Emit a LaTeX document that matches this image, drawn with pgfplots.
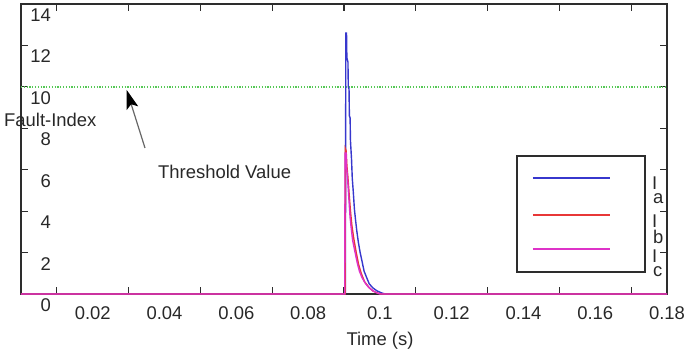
\documentclass[border=0pt]{standalone}
\usepackage{pgfplots}
\pgfplotsset{compat=1.18}
\usepackage{fontspec}
\setmainfont{Liberation Sans}
\usetikzlibrary{arrows.meta}
\definecolor{cblue}{RGB}{55,55,205}
\definecolor{cred}{RGB}{232,55,55}
\definecolor{cmag}{RGB}{222,50,200}
\definecolor{cgreen}{RGB}{85,200,85}
\definecolor{axgrey}{RGB}{45,45,45}
\definecolor{txgrey}{RGB}{40,40,40}
\begin{document}
\begin{tikzpicture}
\fontsize{18.5}{21}\selectfont
\path[use as bounding box] (-21bp,-62bp) rectangle (666bp,294bp);
\begin{axis}[
  at={(0,0)}, anchor=south west,
  scale only axis, width=646bp, height=290bp,
  xmin=0, xmax=0.18, ymin=0, ymax=14,
  clip=false,
  axis line style={line width=1.3bp, color=axgrey},
  xtick={0.02,0.04,0.06,0.08,0.1,0.12,0.14,0.16,0.18},
  xticklabels={0.02,0.04,0.06,0.08,0.1,0.12,0.14,0.16,0.18},
  ytick={0,2,4,6,8,10,12,14},
  yticklabels={0,2,4,6,8,10,12,14},
  minor xtick={0.01,0.03,0.05,0.07,0.09,0.11,0.13,0.15,0.17},
  minor ytick={2,4,6,8,10,12},
  major tick length=0pt, minor tick length=7bp,
  every tick/.style={line width=1.2bp, color=axgrey},
  /pgf/number format/assume math mode=true,
  every tick label/.append style={font=\fontsize{18.5}{21}\selectfont, text=txgrey},
  xticklabel style={inner sep=0pt, yshift=-12.5bp},
  yticklabel style={anchor=east, inner sep=0pt, xshift=30bp, yshift=-11bp},
  xlabel={Time (s)},
  ylabel={Fault-Index},
  every axis x label/.style={at={(axis description cs:0.5557,-0.162)}, anchor=center, font=\fontsize{18.5}{21}\selectfont, text=txgrey},
  every axis y label/.style={at={(axis description cs:-0.0263,0.6)}, anchor=west, inner sep=0pt, rotate=0, font=\fontsize{18.5}{21}\selectfont, text=txgrey},
]
\addplot[cgreen, line width=1.3bp, dash pattern=on 1.3bp off 1.5bp] coordinates {(0,10) (0.18,10)};
\addplot[cblue, line width=1.4bp] coordinates {
(0,0) (0.0904,0) (0.0905,12.6) (0.0907,12.6) (0.0908,11.4) (0.0911,11.2) (0.0912,10.0) (0.0914,9.9) (0.0915,8.6) (0.0917,8.5) (0.0918,7.4) (0.0921,6.5) (0.0923,5.6) (0.0926,4.9) (0.0929,4.1) (0.0932,3.6) (0.0936,3.0) (0.0940,2.5) (0.0945,2.0) (0.0950,1.6) (0.0956,1.1) (0.0963,0.8) (0.0970,0.5) (0.0980,0.3) (0.0992,0.15) (0.1005,0.05) (0.1015,0) (0.18,0)};
\addplot[cred, line width=1.4bp] coordinates {
(0,0) (0.0903,0) (0.0904,7.0) (0.0906,6.9) (0.0908,6.2) (0.0911,5.6) (0.0914,4.9) (0.0918,4.0) (0.0922,3.3) (0.0927,2.7) (0.0934,2.0) (0.0941,1.4) (0.0948,1.0) (0.0957,0.6) (0.0968,0.35) (0.0980,0.15) (0.0993,0.05) (0.1003,0) (0.18,0)};
\addplot[cmag, line width=1.4bp] coordinates {
(0,0) (0.0902,0) (0.0903,6.8) (0.0906,6.8) (0.0907,6.1) (0.0909,5.8) (0.0911,5.3) (0.0914,4.5) (0.0917,3.7) (0.0920,3.2) (0.0924,2.6) (0.0931,2.0) (0.0937,1.5) (0.0943,1.1) (0.0950,0.8) (0.0960,0.5) (0.0970,0.3) (0.0981,0.15) (0.0992,0.05) (0.1000,0) (0.18,0)};
% legend box (lines only; labels sit outside to its right)
\draw[draw=axgrey, line width=1.3bp, fill=white] (axis cs:0.1382,6.662) rectangle (axis cs:0.1739,1.062);
\draw[draw=cblue, line width=1.4bp] (axis cs:0.14266,5.600) -- (axis cs:0.16411,5.600);
\draw[draw=cred, line width=1.4bp] (axis cs:0.14266,3.814) -- (axis cs:0.16411,3.814);
\draw[draw=cmag, line width=1.4bp] (axis cs:0.14266,2.172) -- (axis cs:0.16411,2.172);
\draw[draw=black!60, line width=1.2bp, -{Stealth[length=19bp,width=12bp,inset=4bp,color=black]}] (axis cs:0.03455,7.05) -- (axis cs:0.02945,9.85);
\node[anchor=west, inner sep=0pt, text=txgrey] at (axis cs:0.03817,5.89) {Threshold Value};
\node[anchor=north west, inner sep=0pt, text=txgrey] at (axis cs:0.1758,5.65) {\vbox{\offinterlineskip\hbox{I}\kern3.5bp\hbox{\kern1bp a}}};
\node[anchor=north west, inner sep=0pt, text=txgrey] at (axis cs:0.1758,3.81) {\vbox{\offinterlineskip\hbox{I}\kern2bp\hbox{\kern1bp b}}};
\node[anchor=north west, inner sep=0pt, text=txgrey] at (axis cs:0.1758,2.12) {\vbox{\offinterlineskip\hbox{I}\kern3.5bp\hbox{\kern1bp c}}};
\end{axis}
\end{tikzpicture}
\end{document}
